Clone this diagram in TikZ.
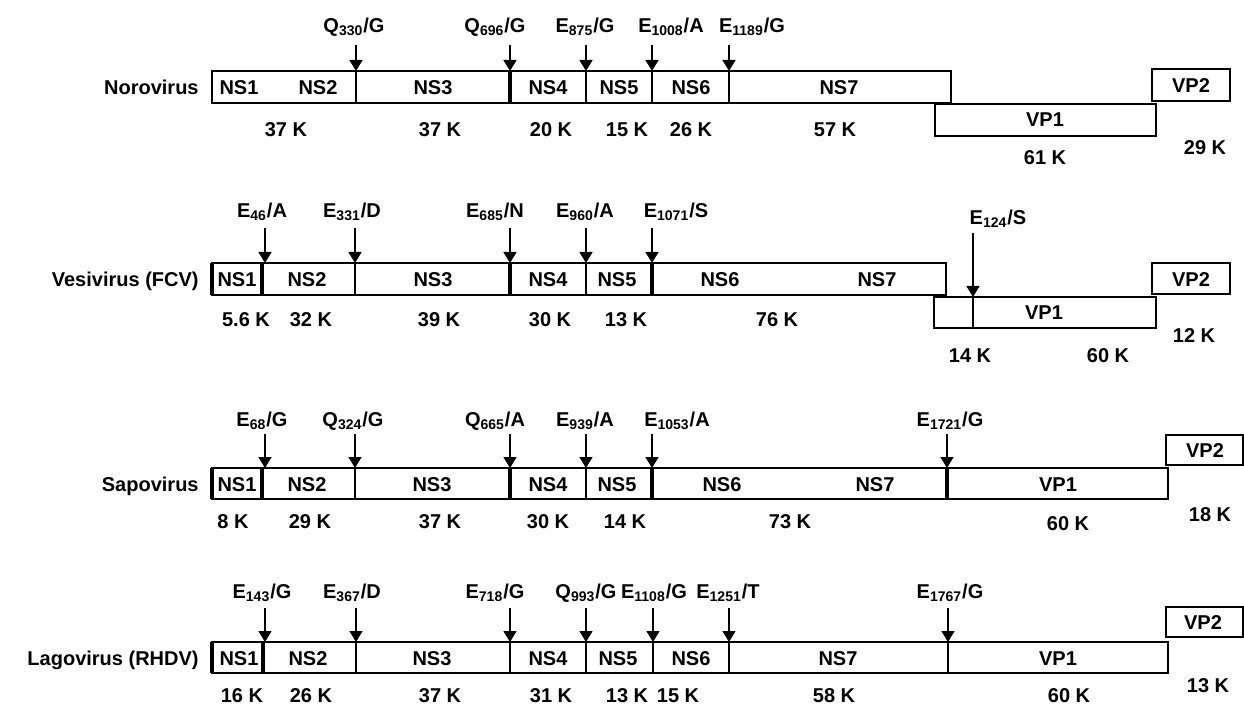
\documentclass[tikz,border=0pt]{standalone}
\usepackage{fontspec}
\setmainfont{Liberation Sans}
\usetikzlibrary{arrows.meta}
\tikzset{
  txt/.style={anchor=base, inner sep=0pt, font=\fontsize{10}{12}\selectfont\bfseries},
  lab/.style={txt},
  seg/.style={draw, line width=1pt},
  thk/.style={line width=1.8pt},
  cut/.style={line width=0.7pt, -{Triangle[width=6.5pt,length=5.5pt]}},
}
% name, arrow x, label centre x, label baseline y, arrow start y, arrow end y, text
\newcommand\cleave[7]{%
  \node[lab] (#1) at (#3,#4) {#7};
  \coordinate (#1a) at (#2,#5);
  \coordinate (#1b) at (#2,#6);
  \draw[cut] (#1a) -- (#1b);}
\newcommand\tx[4]{\node[txt] (#1) at (#2,#3) {#4};}
\begin{document}
\begin{tikzpicture}[x=0.5pt,y=-0.5pt]
\useasboundingbox (0,0) rectangle (1244,706);

% ---------------- Row 1 : Norovirus ----------------
\node[txt, anchor=base east] (n1) at (199,95) {Norovirus};
\draw[seg] (212,71) rectangle (951,103);
\draw[seg] (356,71) -- (356,103);
\draw[seg,thk] (510,71) -- (510,103);
\draw[seg] (586,71) -- (586,103);
\draw[seg] (652,71) -- (652,103);
\draw[seg] (729,71) -- (729,103);
\tx{a1}{239}{95}{NS1}\tx{a2}{318}{95}{NS2}\tx{a3}{433}{95}{NS3}
\tx{a4}{548}{95}{NS4}\tx{a5}{619}{95}{NS5}\tx{a6}{691}{95}{NS6}
\tx{a7}{839}{95}{NS7}
\draw[seg] (935,104) rectangle (1156,136);
\tx{a8}{1045}{127}{VP1}
\draw[seg] (1152,69) rectangle (1230,101);
\tx{a9}{1191}{93}{VP2}
\cleave{c11}{356}{354}{33}{45}{71}{Q\textsubscript{330}/G}
\cleave{c12}{510}{495}{33}{45}{71}{Q\textsubscript{696}/G}
\cleave{c13}{586}{585}{33}{45}{71}{E\textsubscript{875}/G}
\cleave{c14}{652}{671}{33}{45}{71}{E\textsubscript{1008}/A}
\cleave{c15}{729}{752}{33}{45}{71}{E\textsubscript{1189}/G}
\tx{w11}{286}{137}{37 K}\tx{w12}{440}{137}{37 K}\tx{w13}{551}{137}{20 K}
\tx{w14}{627}{137}{15 K}\tx{w15}{691}{137}{26 K}\tx{w16}{835}{137}{57 K}
\tx{w17}{1045}{165}{61 K}\tx{w18}{1205}{155}{29 K}

% ---------------- Row 2 : Vesivirus ----------------
\node[txt, anchor=base east] (n2) at (199,286) {Vesivirus (FCV)};
\draw[seg] (212,263) rectangle (946,295);
\draw[seg,thk] (212,263) -- (212,295);
\draw[seg,thk] (262,263) -- (262,295);
\draw[seg] (355,263) -- (355,295);
\draw[seg,thk] (510,263) -- (510,295);
\draw[seg] (586,263) -- (586,295);
\draw[seg,thk] (652,263) -- (652,295);
\tx{b1}{237}{286}{NS1}\tx{b2}{307}{286}{NS2}\tx{b3}{433}{286}{NS3}
\tx{b4}{548}{286}{NS4}\tx{b5}{617}{286}{NS5}\tx{b6}{720}{286}{NS6}
\tx{b7}{877}{286}{NS7}
\draw[seg] (934,297) rectangle (1156,328);
\tx{b8}{1044}{320}{VP1}
\draw[seg] (1152,263) rectangle (1230,294);
\tx{b9}{1191}{286}{VP2}
\cleave{c21}{265}{262}{218}{228}{263}{E\textsubscript{46}/A}
\cleave{c22}{355}{352}{218}{228}{263}{E\textsubscript{331}/D}
\cleave{c23}{510}{495}{218}{228}{263}{E\textsubscript{685}/N}
\cleave{c24}{586}{585}{218}{228}{263}{E\textsubscript{960}/A}
\cleave{c25}{652}{676}{218}{228}{263}{E\textsubscript{1071}/S}
\cleave{c26}{973}{998}{225}{233}{297}{E\textsubscript{124}/S}
\coordinate (c26c) at (973,328);
\draw[line width=0.7pt] (c26b) -- (c26c);
\tx{w21}{246}{327}{5.6 K}\tx{w22}{311}{327}{32 K}\tx{w23}{439}{327}{39 K}
\tx{w24}{550}{327}{30 K}\tx{w25}{626}{327}{13 K}\tx{w26}{777}{327}{76 K}
\tx{w27}{970}{363}{14 K}\tx{w28}{1108}{363}{60 K}\tx{w29}{1194}{343}{12 K}

% ---------------- Row 3 : Sapovirus ----------------
\node[txt, anchor=base east] (n3) at (199,491) {Sapovirus};
\draw[seg] (212,468) rectangle (1168,499);
\draw[seg,thk] (212,468) -- (212,499);
\draw[seg,thk] (262,468) -- (262,499);
\draw[seg] (355,468) -- (355,499);
\draw[seg,thk] (510,468) -- (510,499);
\draw[seg] (586,468) -- (586,499);
\draw[seg,thk] (652,468) -- (652,499);
\draw[seg,thk] (947,468) -- (947,499);
\tx{d1}{237}{491}{NS1}\tx{d2}{307}{491}{NS2}\tx{d3}{432}{491}{NS3}
\tx{d4}{548}{491}{NS4}\tx{d5}{617}{491}{NS5}\tx{d6}{722}{491}{NS6}
\tx{d7}{875}{491}{NS7}\tx{d8}{1058}{491}{VP1}
\draw[seg] (1166,435) rectangle (1243,465);
\tx{d9}{1205}{457}{VP2}
\cleave{c31}{265}{262}{426}{434}{468}{E\textsubscript{68}/G}
\cleave{c32}{355}{353}{426}{434}{468}{Q\textsubscript{324}/G}
\cleave{c33}{510}{495}{426}{434}{468}{Q\textsubscript{665}/A}
\cleave{c34}{586}{585}{426}{434}{468}{E\textsubscript{939}/A}
\cleave{c35}{652}{677}{426}{434}{468}{E\textsubscript{1053}/A}
\cleave{c36}{947}{950}{426}{434}{468}{E\textsubscript{1721}/G}
\tx{w31}{233}{528}{8 K}\tx{w32}{310}{528}{29 K}\tx{w33}{440}{528}{37 K}
\tx{w34}{548}{528}{30 K}\tx{w35}{625}{528}{14 K}\tx{w36}{790}{528}{73 K}
\tx{w37}{1068}{530}{60 K}\tx{w38}{1210}{521}{18 K}

% ---------------- Row 4 : Lagovirus ----------------
\node[txt, anchor=base east] (n4) at (199,665) {Lagovirus (RHDV)};
\draw[seg] (212,642) rectangle (1168,673);
\draw[seg,thk] (212,642) -- (212,673);
\draw[seg,thk] (263,642) -- (263,673);
\draw[seg] (356,642) -- (356,673);
\draw[seg] (510,642) -- (510,673);
\draw[seg] (586,642) -- (586,673);
\draw[seg] (653,642) -- (653,673);
\draw[seg] (729,642) -- (729,673);
\draw[seg] (948,642) -- (948,673);
\tx{e1}{239}{665}{NS1}\tx{e2}{308}{665}{NS2}\tx{e3}{432}{665}{NS3}
\tx{e4}{548}{665}{NS4}\tx{e5}{618}{665}{NS5}\tx{e6}{691}{665}{NS6}
\tx{e7}{838}{665}{NS7}\tx{e8}{1058}{665}{VP1}
\draw[seg] (1166,607) rectangle (1243,637);
\tx{e9}{1203}{629}{VP2}
\cleave{c41}{265}{262}{598}{608}{642}{E\textsubscript{143}/G}
\cleave{c42}{356}{352}{598}{608}{642}{E\textsubscript{367}/D}
\cleave{c43}{510}{495}{598}{608}{642}{E\textsubscript{718}/G}
\cleave{c44}{586}{586}{598}{608}{642}{Q\textsubscript{993}/G}
\cleave{c45}{653}{654}{598}{608}{642}{E\textsubscript{1108}/G}
\cleave{c46}{729}{728}{598}{608}{642}{E\textsubscript{1251}/T}
\cleave{c47}{948}{950}{598}{608}{642}{E\textsubscript{1767}/G}
\tx{w41}{242}{702}{16 K}\tx{w42}{311}{702}{26 K}\tx{w43}{440}{702}{37 K}
\tx{w44}{551}{702}{31 K}\tx{w45}{627}{702}{13 K}\tx{w46}{678}{702}{15 K}
\tx{w47}{834}{702}{58 K}\tx{w48}{1069}{702}{60 K}\tx{w49}{1208}{692}{13 K}
\end{tikzpicture}
\end{document}
